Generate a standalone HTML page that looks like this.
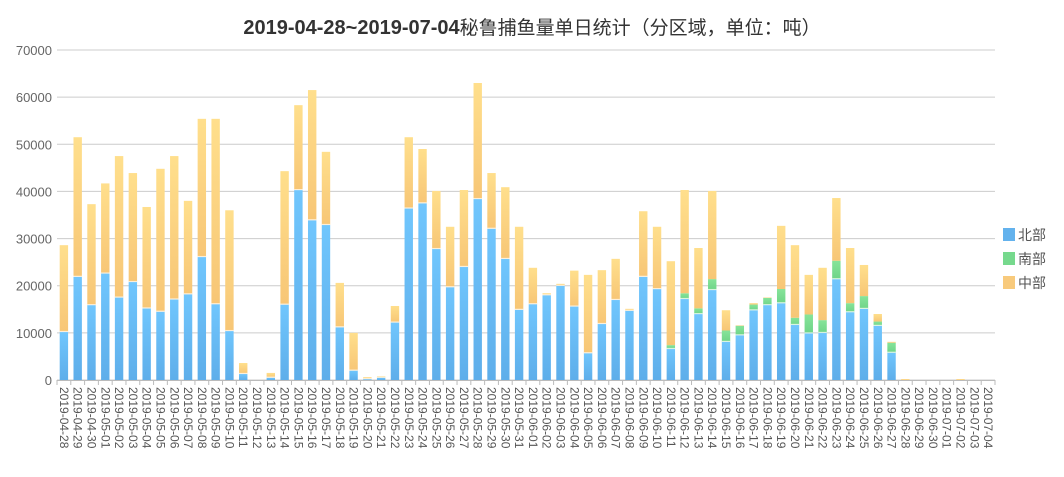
<!DOCTYPE html>
<html><head><meta charset="utf-8"><style>
body{margin:0;background:#fff;}
svg{display:block;font-family:"Liberation Sans","Noto Sans CJK SC",sans-serif;}
</style></head><body>
<svg id="c" width="1064" height="477" viewBox="0 0 1064 477">
<defs>
<linearGradient id="gb" x1="0" y1="0" x2="0" y2="1"><stop offset="0" stop-color="#70c6fd"/><stop offset="1" stop-color="#5eaeea"/></linearGradient>
<linearGradient id="go" x1="0" y1="0" x2="0" y2="1"><stop offset="0" stop-color="#ffdf8c"/><stop offset="1" stop-color="#f7c676"/></linearGradient>
<linearGradient id="gg" x1="0" y1="0" x2="0" y2="1"><stop offset="0" stop-color="#86e49a"/><stop offset="1" stop-color="#6fd488"/></linearGradient>
</defs>
<text x="532" y="34" text-anchor="middle" font-size="20" fill="#333"><tspan font-weight="bold">2019-04-28~2019-07-04</tspan><tspan font-family="'Noto Sans CJK SC',sans-serif" font-size="19">秘鲁捕鱼量单日统计（分区域，单位：吨）</tspan></text>
<g id="g"></g>
<rect x="1003" y="228" width="12" height="13" fill="#63b2ed"/>
<rect x="1003" y="252" width="12" height="13" fill="#76d98d"/>
<rect x="1003" y="276" width="12" height="13" fill="#f8ca7c"/>
<text x="1018" y="240" font-size="14" fill="#555" font-family="'Noto Sans CJK SC',sans-serif">北部</text>
<text x="1018" y="264" font-size="14" fill="#555" font-family="'Noto Sans CJK SC',sans-serif">南部</text>
<text x="1018" y="288" font-size="14" fill="#555" font-family="'Noto Sans CJK SC',sans-serif">中部</text>
</svg>
<script>
var d=[[28.6,10.2,0],[51.5,21.9,0],[37.3,15.9,0],[41.7,22.6,0],[47.5,17.5,0],[43.9,20.8,0],[36.7,15.2,0],[44.8,14.5,0],[47.5,17.1,0],[38,18.2,0],[55.4,26.1,0],[55.4,16.1,0],[36,10.4,0],[3.6,1.3,0],[0,0,0],[1.5,0.5,0],[44.3,16,0],[58.3,40.3,0],[61.5,33.9,0],[48.4,32.9,0],[20.6,11.2,0],[10,2,0],[0.6,0.2,0],[0.8,0.5,0],[15.7,12.2,0],[51.5,36.4,0],[49,37.5,0],[40.1,27.8,0],[32.5,19.7,0],[40.3,24,0],[63,38.4,0],[43.9,32.1,0],[40.9,25.7,0],[32.5,14.9,0],[23.8,16.1,0],[18.4,18,0],[20.4,20,0],[23.2,15.6,0],[22.3,5.7,0],[23.3,11.9,0],[25.7,17,0],[15.1,14.7,0],[35.8,21.9,0],[32.5,19.3,0],[25.2,6.6,0.8],[40.3,17.2,1.2],[28,14,1.2],[40.1,19.1,2.3],[14.8,8.1,2.4],[11.6,9.5,2],[16.3,14.8,1.2],[17.5,15.9,1.5],[32.7,16.3,3],[28.6,11.7,1.5],[22.3,9.9,4],[23.8,10,2.7],[38.6,21.4,3.9],[28,14.4,1.9],[24.4,15.1,2.7],[14,11.5,0.9],[8.1,5.8,2.1],[0.2,0,0],[0,0,0],[0,0,0],[0,0,0],[0.2,0,0],[0,0,0],[0,0,0]];
var s='',x0=57,x1=995,y0=380,k=330/70;
for(var i=0;i<=7;i++){var y=y0-i*10*k;s+='<line x1="'+x0+'" x2="'+x1+'" y1="'+y+'" y2="'+y+'" stroke="#ccc" stroke-width="1"/>';s+='<text x="52" y="'+(y+5)+'" text-anchor="end" font-size="13" fill="#666">'+(i*10000)+'</text>';}
var w=(x1-x0)/68;var st=new Date(2019,3,28);
for(var i=0;i<68;i++){var c=x0+w*(i+0.5),bx=c-4.2,bw=8.4,t=d[i];
 var n=t[1],so=t[2],m=t[0]-n-so;
 if(n>0)s+='<rect x="'+bx+'" y="'+(y0-n*k)+'" width="'+bw+'" height="'+(n*k)+'" fill="url(#gb)"/>';
 if(so>0)s+='<rect x="'+bx+'" y="'+(y0-(n+so)*k)+'" width="'+bw+'" height="'+(so*k)+'" fill="url(#gg)"/>';
 if(m>0)s+='<rect x="'+bx+'" y="'+(y0-t[0]*k)+'" width="'+bw+'" height="'+(m*k)+'" fill="url(#go)"/>';
 if(t[0]>0.5&&n>0)s+='<rect x="'+bx+'" y="'+(y0-n*k-1)+'" width="'+bw+'" height="1.2" fill="#fff" opacity="0.7"/>';
 var tx=x0+w*i;s+='<line x1="'+tx+'" x2="'+tx+'" y1="380" y2="385" stroke="#bbb"/>';
 var dt=new Date(st.getTime()+i*86400000);var lab='2019-'+('0'+(dt.getMonth()+1)).slice(-2)+'-'+('0'+dt.getDate()).slice(-2);
 s+='<text transform="translate('+(c-4)+',387) rotate(90)" font-size="12" fill="#555">'+lab+'</text>';}
s+='<line x1="'+x1+'" x2="'+x1+'" y1="380" y2="385" stroke="#bbb"/><line x1="'+x0+'" x2="'+x1+'" y1="380.5" y2="380.5" stroke="#bbb"/>';
document.getElementById('g').innerHTML=s;
</script>
</body></html>
